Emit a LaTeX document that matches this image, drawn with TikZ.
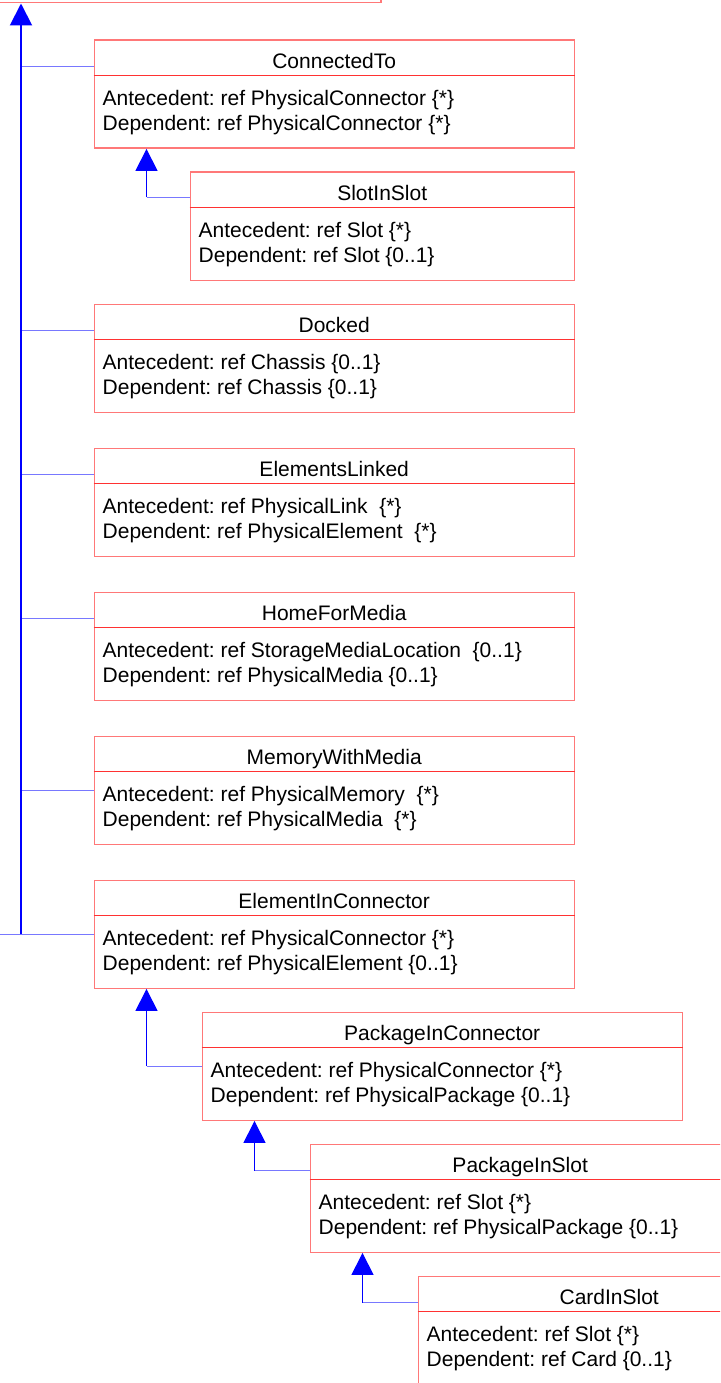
\documentclass[tikz,border=0pt]{standalone}
\usepackage{fontspec}
\setmainfont{Liberation Sans}
\usetikzlibrary{arrows.meta}

\definecolor{clsline}{RGB}{255,120,120}
\definecolor{clsdiv}{RGB}{255,50,50}
\definecolor{genline}{RGB}{0,0,255}
\definecolor{genlight}{RGB}{120,120,255}

\begin{document}
\begin{tikzpicture}[x=1pt,y=-1pt,
  cls/.style={draw=clsline,line width=1.4pt,anchor=north west,minimum height=108pt,inner sep=0pt},
  clsname/.style={anchor=base,inner sep=0pt,font=\fontsize{21}{25}\selectfont\frenchspacing},
  clsattr/.style={anchor=base west,inner sep=0pt,font=\fontsize{21}{25}\selectfont\frenchspacing},
  divline/.style={draw=clsdiv,line width=1.2pt},
  trunk/.style={draw=genline,line width=2pt,-{Triangle[width=22pt,length=22pt]}},
  isa/.style={draw=genline,line width=1.2pt,-{Triangle[width=22pt,length=22pt]}},
  branch/.style={draw=genlight,line width=1.2pt}]
\useasboundingbox (0,0) rectangle (720,1383);
\clip (0,0) rectangle (720,1383);
\begin{scope}[shift={(0.5,0.5)}]
% parent class, mostly outside the page
\node [cls,anchor=south east,minimum width=420pt,minimum height=60pt] (phys) at (381,3) {};
% ConnectedTo
\node [cls,minimum width=480pt] (connto) at (93,39) {};
\draw [divline] ([yshift=-36pt]connto.north west) -- ([yshift=-36pt]connto.north east);
\node [clsname] (connto-t) at ([yshift=-29pt]connto.north) {ConnectedTo};
\node [clsattr] (connto-a) at ([xshift=9pt,yshift=-66pt]connto.north west) {Antecedent: ref PhysicalConnector \{*\}};
\node [clsattr] (connto-d) at ([xshift=9pt,yshift=-91pt]connto.north west) {Dependent: ref PhysicalConnector \{*\}};
% SlotInSlot
\node [cls,minimum width=384pt] (slot) at (189,171) {};
\draw [divline] ([yshift=-36pt]slot.north west) -- ([yshift=-36pt]slot.north east);
\node [clsname] (slot-t) at ([yshift=-29pt]slot.north) {SlotInSlot};
\node [clsattr] (slot-a) at ([xshift=9pt,yshift=-66pt]slot.north west) {Antecedent: ref Slot \{*\}};
\node [clsattr] (slot-d) at ([xshift=9pt,yshift=-91pt]slot.north west) {Dependent: ref Slot \{0..1\}};
% Docked
\node [cls,minimum width=480pt] (docked) at (93,303) {};
\draw [divline] ([yshift=-36pt]docked.north west) -- ([yshift=-36pt]docked.north east);
\node [clsname] (docked-t) at ([yshift=-29pt]docked.north) {Docked};
\node [clsattr] (docked-a) at ([xshift=9pt,yshift=-66pt]docked.north west) {Antecedent: ref Chassis \{0..1\}};
\node [clsattr] (docked-d) at ([xshift=9pt,yshift=-91pt]docked.north west) {Dependent: ref Chassis \{0..1\}};
% ElementsLinked
\node [cls,minimum width=480pt] (elink) at (93,447) {};
\draw [divline] ([yshift=-36pt]elink.north west) -- ([yshift=-36pt]elink.north east);
\node [clsname] (elink-t) at ([yshift=-29pt]elink.north) {ElementsLinked};
\node [clsattr] (elink-a) at ([xshift=9pt,yshift=-66pt]elink.north west) {Antecedent: ref PhysicalLink\ \ \{*\}};
\node [clsattr] (elink-d) at ([xshift=9pt,yshift=-91pt]elink.north west) {Dependent: ref PhysicalElement\ \ \{*\}};
% HomeForMedia
\node [cls,minimum width=480pt] (home) at (93,591) {};
\draw [divline] ([yshift=-36pt]home.north west) -- ([yshift=-36pt]home.north east);
\node [clsname] (home-t) at ([yshift=-29pt]home.north) {HomeForMedia};
\node [clsattr] (home-a) at ([xshift=9pt,yshift=-66pt]home.north west) {Antecedent: ref StorageMediaLocation\ \ \{0..1\}};
\node [clsattr] (home-d) at ([xshift=9pt,yshift=-91pt]home.north west) {Dependent: ref PhysicalMedia \{0..1\}};
% MemoryWithMedia
\node [cls,minimum width=480pt] (memmed) at (93,735) {};
\draw [divline] ([yshift=-36pt]memmed.north west) -- ([yshift=-36pt]memmed.north east);
\node [clsname] (memmed-t) at ([yshift=-29pt]memmed.north) {MemoryWithMedia};
\node [clsattr] (memmed-a) at ([xshift=9pt,yshift=-66pt]memmed.north west) {Antecedent: ref PhysicalMemory\ \ \{*\}};
\node [clsattr] (memmed-d) at ([xshift=9pt,yshift=-91pt]memmed.north west) {Dependent: ref PhysicalMedia\ \ \{*\}};
% ElementInConnector
\node [cls,minimum width=480pt] (eic) at (93,879) {};
\draw [divline] ([yshift=-36pt]eic.north west) -- ([yshift=-36pt]eic.north east);
\node [clsname] (eic-t) at ([yshift=-29pt]eic.north) {ElementInConnector};
\node [clsattr] (eic-a) at ([xshift=9pt,yshift=-66pt]eic.north west) {Antecedent: ref PhysicalConnector \{*\}};
\node [clsattr] (eic-d) at ([xshift=9pt,yshift=-91pt]eic.north west) {Dependent: ref PhysicalElement \{0..1\}};
% PackageInConnector
\node [cls,minimum width=480pt] (pic) at (201,1011) {};
\draw [divline] ([yshift=-36pt]pic.north west) -- ([yshift=-36pt]pic.north east);
\node [clsname] (pic-t) at ([yshift=-29pt]pic.north) {PackageInConnector};
\node [clsattr] (pic-a) at ([xshift=9pt,yshift=-66pt]pic.north west) {Antecedent: ref PhysicalConnector \{*\}};
\node [clsattr] (pic-d) at ([xshift=9pt,yshift=-91pt]pic.north west) {Dependent: ref PhysicalPackage \{0..1\}};
% PackageInSlot
\node [cls,minimum width=420pt] (pis) at (309,1143) {};
\draw [divline] ([yshift=-36pt]pis.north west) -- ([yshift=-36pt]pis.north east);
\node [clsname] (pis-t) at ([yshift=-29pt]pis.north) {PackageInSlot};
\node [clsattr] (pis-a) at ([xshift=9pt,yshift=-66pt]pis.north west) {Antecedent: ref Slot \{*\}};
\node [clsattr] (pis-d) at ([xshift=9pt,yshift=-91pt]pis.north west) {Dependent: ref PhysicalPackage \{0..1\}};
% CardInSlot
\node [cls,minimum width=382pt] (cis) at (417,1275) {};
\draw [divline] ([yshift=-36pt]cis.north west) -- ([yshift=-36pt]cis.north east);
\node [clsname] (cis-t) at ([yshift=-29pt]cis.north) {CardInSlot};
\node [clsattr] (cis-a) at ([xshift=9pt,yshift=-66pt]cis.north west) {Antecedent: ref Slot \{*\}};
\node [clsattr] (cis-d) at ([xshift=9pt,yshift=-91pt]cis.north west) {Dependent: ref Card \{0..1\}};

% generalisation lines
\coordinate (trunk) at (20.5,0);
\coordinate (offleft) at (-5,0);
\coordinate (connto-in) at ([yshift=-27pt]connto.north west);
\coordinate (slot-in) at ([yshift=-26pt]slot.north west);
\coordinate (docked-in) at ([yshift=-27pt]docked.north west);
\coordinate (elink-in) at ([yshift=-27pt]elink.north west);
\coordinate (home-in) at ([yshift=-27pt]home.north west);
\coordinate (pis-in) at ([yshift=-27pt]pis.north west);
\coordinate (cis-in) at ([yshift=-27pt]cis.north west);
\coordinate (connto-foot) at ([xshift=53pt]connto.south west);
\coordinate (eic-foot) at ([xshift=53pt]eic.south west);
\coordinate (pic-foot) at ([xshift=53pt]pic.south west);
\coordinate (pis-foot) at ([xshift=53pt]pis.south west);

\draw [branch] (connto-in) -- (connto-in -| trunk);
\draw [branch] (docked-in) -- (docked-in -| trunk);
\draw [branch] (elink-in) -- (elink-in -| trunk);
\draw [branch] (home-in) -- (home-in -| trunk);
\draw [branch] (memmed.west) -- (memmed.west -| trunk);
\draw [branch] (eic.west) -- (eic.west -| offleft);
\draw [trunk] (eic.west -| trunk) -- (trunk |- phys.south);

\draw [branch] (slot-in) -- (slot-in -| connto-foot);
\draw [isa] (slot-in -| connto-foot) -- (connto-foot);
\draw [branch] (pic.west) -- (pic.west -| eic-foot);
\draw [isa] (pic.west -| eic-foot) -- (eic-foot);
\draw [branch] (pis-in) -- (pis-in -| pic-foot);
\draw [isa] (pis-in -| pic-foot) -- (pic-foot);
\draw [branch] (cis-in) -- (cis-in -| pis-foot);
\draw [isa] (cis-in -| pis-foot) -- (pis-foot);
\end{scope}
\end{tikzpicture}
\end{document}
